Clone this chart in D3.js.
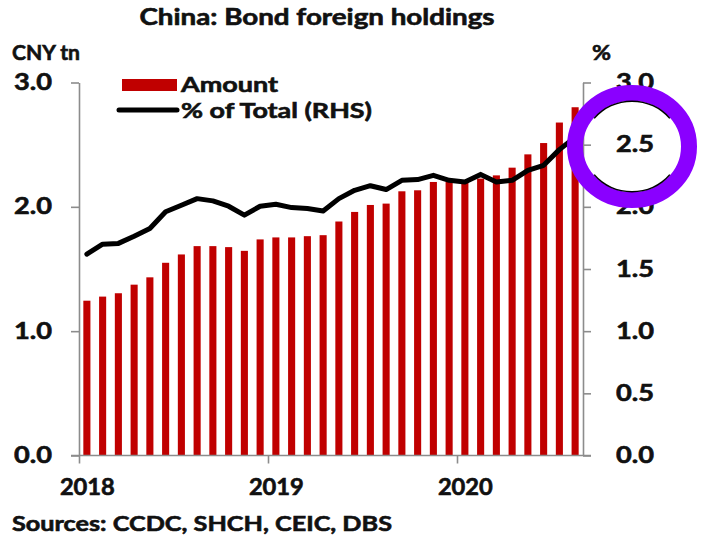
<!DOCTYPE html>
<html>
<head>
<meta charset="utf-8">
<script src="https://cdn.jsdelivr.net/npm/d3@7"></script>
<style>
  html, body { margin: 0; padding: 0; background: #fff; }
  svg { display: block; font-family: Lato, "Open Sans", sans-serif; font-weight: 700; }
  svg text { fill: #111; stroke: #111; stroke-width: 0.6px; }
</style>
</head>
<body>
<svg id="chart" width="702" height="541"></svg>
<script>
// Monthly observations, Jan 2018 – Aug 2020
const months = [
  "2018-01","2018-02","2018-03","2018-04","2018-05","2018-06","2018-07","2018-08",
  "2018-09","2018-10","2018-11","2018-12","2019-01","2019-02","2019-03","2019-04",
  "2019-05","2019-06","2019-07","2019-08","2019-09","2019-10","2019-11","2019-12",
  "2020-01","2020-02","2020-03","2020-04","2020-05","2020-06","2020-07","2020-08"
];
// Foreign holdings of onshore bonds, CNY tn
const amount = [
  1.245,1.278,1.305,1.374,1.433,1.550,1.617,1.684,
  1.684,1.676,1.646,1.738,1.754,1.754,1.764,1.772,
  1.882,1.959,2.015,2.026,2.125,2.133,2.200,2.200,
  2.200,2.227,2.253,2.315,2.422,2.513,2.678,2.801
];
// Foreign share of total bonds outstanding, % (right axis)
const shareOfTotal = [
  1.620,1.700,1.706,1.764,1.826,1.960,2.013,2.066,
  2.048,2.005,1.933,2.005,2.021,1.994,1.986,1.967,
  2.066,2.133,2.170,2.139,2.213,2.219,2.253,2.213,
  2.200,2.261,2.200,2.213,2.293,2.334,2.460,2.560
];
const leftTicks = [0, 1, 2, 3];
const rightTicks = [0, 0.5, 1, 1.5, 2, 2.5, 3];
const yearTicks = [0, 12, 24];
const yearLabels = ["2018", "2019", "2020"];

const svg = d3.select("#chart");
const plotL = 79, plotR = 583, plotT = 82.5, plotB = 455.5;
const axisColor = "#8c8c8c";
const barColor = "#c00000";

const x = d3.scaleBand().domain(months).range([plotL, plotR]).paddingInner(0.55).paddingOuter(0.275);
const xPos = d3.scaleLinear().domain([0, months.length]).range([plotL, plotR]);
const yL = d3.scaleLinear().domain([0, 3]).range([plotB, plotT]);
const yR = d3.scaleLinear().domain([0, 3]).range([plotB, plotT]);

// Bars
svg.append("g").selectAll("rect").data(amount).join("rect")
  .attr("x", (d, i) => x(months[i]))
  .attr("width", x.bandwidth())
  .attr("y", d => yL(d))
  .attr("height", d => yL(0) - yL(d))
  .attr("fill", barColor);

function styleAxis(g, labelWidth) {
  g.selectAll("path, line").attr("stroke", axisColor).attr("stroke-width", 1.6);
  g.selectAll("text").attr("font-size", 22)
    .attr("font-family", "Lato, sans-serif").attr("font-weight", 700)
    .attr("textLength", labelWidth).attr("lengthAdjust", "spacingAndGlyphs");
}

// Left axis
svg.append("g").attr("transform", `translate(${plotL},0)`)
  .call(d3.axisLeft(yL).tickValues(leftTicks).tickSize(8).tickSizeOuter(0)
    .tickPadding(19).tickFormat(d3.format(".1f")))
  .call(styleAxis, 38);

// Right axis
svg.append("g").attr("transform", `translate(${plotR},0)`)
  .call(d3.axisRight(yR).tickValues(rightTicks).tickSize(8).tickSizeOuter(0)
    .tickPadding(25).tickFormat(d3.format(".1f")))
  .call(styleAxis, 38);

// Bottom axis with year marks at January boundaries
const xAxis = svg.append("g").attr("transform", `translate(0,${plotB})`)
  .call(d3.axisBottom(xPos).tickValues(yearTicks).tickSize(8).tickSizeOuter(0)
    .tickPadding(0).tickFormat((d, i) => yearLabels[i]))
  .call(styleAxis, 55);
xAxis.select(".domain").remove();
xAxis.append("line").attr("x1", plotL - 8).attr("x2", plotR + 8)
  .attr("stroke", axisColor).attr("stroke-width", 1.6);
xAxis.selectAll(".tick text").attr("x", x.step() / 2).attr("y", 39).attr("dy", 0);

// Share line
const line = d3.line()
  .x((d, i) => x(months[i]) + x.bandwidth() / 2)
  .y(d => yR(d));
svg.append("path").datum(shareOfTotal)
  .attr("d", line)
  .attr("fill", "none")
  .attr("stroke", "#000")
  .attr("stroke-width", 5)
  .attr("stroke-linejoin", "round")
  .attr("stroke-linecap", "round");

// Titles and labels
function label(xp, yp, size, width, txt, anchor) {
  return svg.append("text").attr("x", xp).attr("y", yp).attr("font-size", size)
    .attr("text-anchor", anchor || "start")
    .attr("textLength", width).attr("lengthAdjust", "spacingAndGlyphs").text(txt);
}
label(317, 25, 22, 355, "China: Bond foreign holdings", "middle");
label(12, 60, 21, 68, "CNY tn");
label(592, 60, 21, 19, "%");
label(12, 531, 21, 380, "Sources: CCDC, SHCH, CEIC, DBS");

// Legend
svg.append("rect").attr("x", 122).attr("y", 79).attr("width", 55).attr("height", 12)
  .attr("fill", barColor);
label(181, 92, 21, 97, "Amount");
svg.append("line").attr("x1", 119).attr("x2", 177).attr("y1", 110).attr("y2", 110)
  .attr("stroke", "#000").attr("stroke-width", 5).attr("stroke-linecap", "round");
label(181, 118, 21, 191, "% of Total (RHS)");

// Highlight ring around the 2.5% level
const cx = 632, cy = 146.5, rx = 57, ry = 53.5;
svg.append("ellipse").attr("cx", cx).attr("cy", cy).attr("rx", rx).attr("ry", ry)
  .attr("fill", "none").attr("stroke", "#8a00ff").attr("stroke-width", 16);
const arc = d3.arc().innerRadius(rx - 9.5).outerRadius(rx - 8);
const shade = svg.append("g").attr("transform", `translate(${cx},${cy}) scale(1,${ry / rx})`);
shade.append("path").attr("d", arc({ startAngle: -0.9, endAngle: 0.9 })).attr("fill", "#000");
shade.append("path").attr("d", arc({ startAngle: Math.PI - 0.9, endAngle: Math.PI + 0.9 })).attr("fill", "#000");
</script>
</body>
</html>
